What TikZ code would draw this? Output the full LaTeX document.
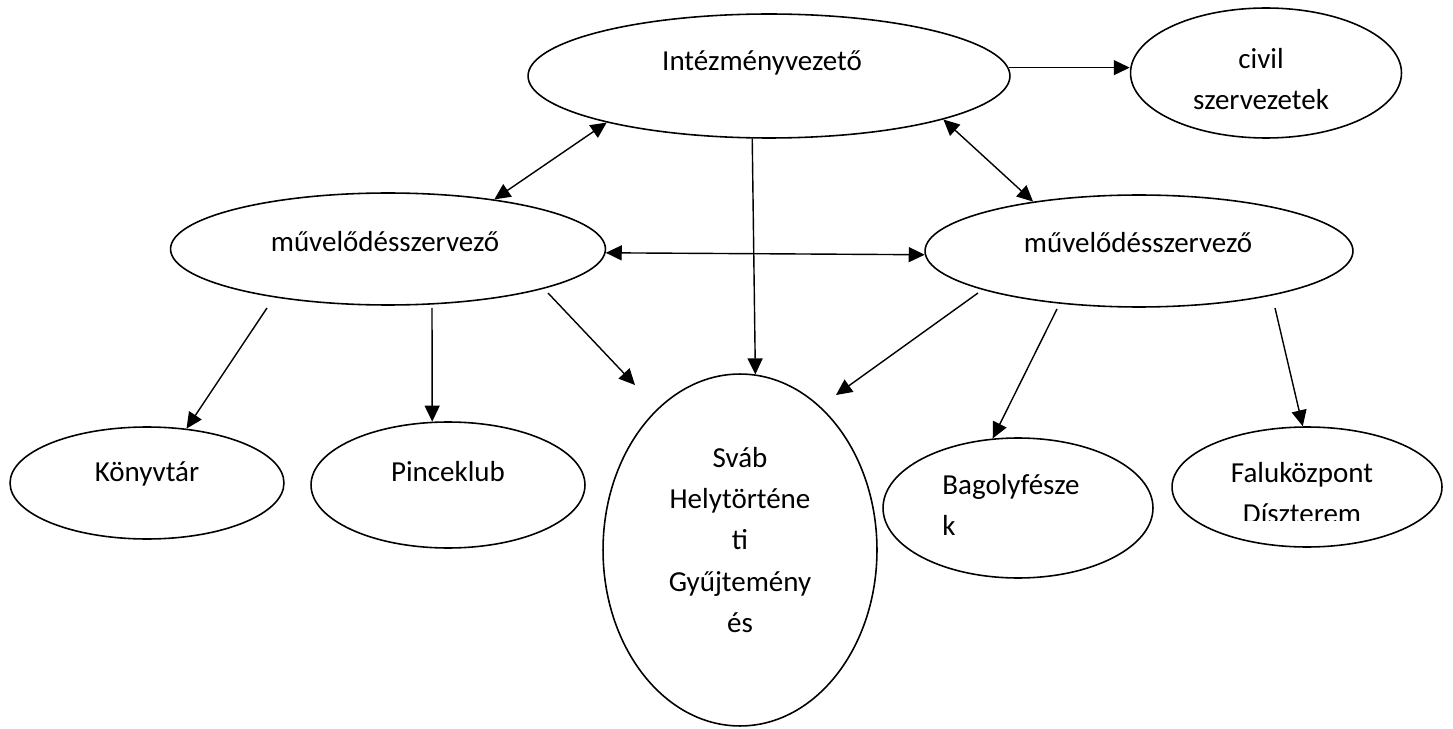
\documentclass[tikz,border=0pt]{standalone}
\usepackage{fontspec}
\setmainfont{Carlito}
\usetikzlibrary{shapes.geometric,arrows.meta,calc}

\tikzset{
  oval/.style={ellipse, draw, line width=0.9pt, inner sep=0pt},
  lbl/.style={align=center, inner sep=0pt, font=\fontsize{16.5}{23.6}\selectfont},
  arr/.style={-{Triangle[length=0.32cm,width=0.3cm]}, line width=0.8pt},
  darr/.style={{Triangle[length=0.32cm,width=0.3cm]}-{Triangle[length=0.32cm,width=0.3cm]}, line width=0.8pt}
}

\begin{document}
\begin{tikzpicture}[x=0.02cm, y=-0.02cm]
  \useasboundingbox (0,0) rectangle (1453,729);

  % ellipses
  \node[oval, minimum width=9.64cm, minimum height=2.48cm] (intez) at (769,76) {};
  \node[oval, minimum width=5.42cm, minimum height=2.6cm] (civil) at (1266,73) {};
  \node[oval, minimum width=8.7cm, minimum height=2.24cm] (mvl) at (388,249) {};
  \node[oval, minimum width=8.56cm, minimum height=2.24cm] (mvr) at (1139,251) {};
  \node[oval, minimum width=5.48cm, minimum height=2.24cm] (konyv) at (147,483) {};
  \node[oval, minimum width=5.48cm, minimum height=2.52cm] (pince) at (448,485) {};
  \node[oval, minimum width=5.48cm, minimum height=7.04cm] (svab) at (740,550) {};
  \node[oval, minimum width=5.4cm, minimum height=2.8cm] (bagoly) at (1018,508) {};
  \node[oval, minimum width=5.4cm, minimum height=2.4cm] (falu) at (1307,487) {};

  % texts
  \node[lbl] (intezt) at (762,63) {Intézményvezető};
  \node[lbl] (civilt) at (1261,79) {civil\\szervezetek};
  \node[lbl] (mvlt) at (385,242) {művelődésszervező};
  \node[lbl] (mvrt) at (1138,243) {művelődésszervező};
  \node[lbl] (konyvt) at (147,474) {Könyvtár};
  \node[lbl] (pincet) at (448,472) {Pinceklub};
  \node[lbl] (svabt) at (740,540) {Sváb\\Helytörténe\\ti\\Gyűjtemény\\és};
  \begin{scope}
    \clip (890,450) rectangle (1150,536);
    \node[lbl, align=left, anchor=west] (bagolyt) at (942,505) {Bagolyfésze\\k};
  \end{scope}
  \begin{scope}
    \clip (1180,440) rectangle (1440,520);
    \node[lbl] (falut) at (1302,493) {Faluközpont\\Díszterem};
  \end{scope}

  % connectors
  \draw[arr] (intez.2.5) -- (intez.2.5 -| civil.west);
  \draw[darr] (mvl.25) -- (intez.196);
  \draw[darr] (intez.-14) -- (mvr.155);
  \draw[arr] (intez.255.5) -- (svab.85.8);
  \draw[darr] (mvl.-1.6) -- (mvr.181);
  \draw[arr] ($(mvl)+(-121,59)$) -- (konyv.54.7);
  \draw[arr] ($(mvl)+(44,59)$) -- (pince.104.3);
  \draw[arr] ($(mvl)+(160,44)$) -- ($(svab)+(-105,-165)$);
  \draw[arr] ($(mvr)+(-161,42)$) -- ($(svab)+(96,-155)$);
  \draw[arr] ($(mvr)+(-82,58)$) -- (bagoly.110);
  \draw[arr] ($(mvr)+(136,57)$) -- (falu.94);
\end{tikzpicture}
\end{document}
